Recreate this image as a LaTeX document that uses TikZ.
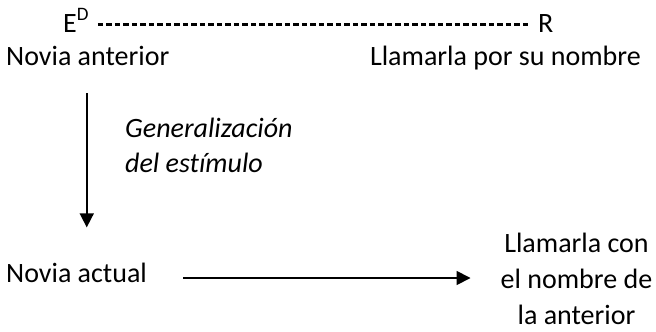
\documentclass[tikz,border=0pt]{standalone}
\usepackage{fontspec}
\setmainfont{Carlito}[Ligatures=NoCommon]
\usetikzlibrary{arrows.meta, positioning, calc}

\begin{document}
\begin{tikzpicture}[
        x=1pt, y=-1pt,
        every node/.style={inner sep=0pt, font=\fontsize{28}{36}\selectfont},
        flecha/.style={-{Triangle[length=14pt,width=14pt]}, line width=1.7pt},
        guiones/.style={line width=2.2pt, dash pattern=on 5.5pt off 3pt}
    ]
        \useasboundingbox (0,0) rectangle (656,332);

        % Fila de arriba
        \node [anchor=base west] (ED) at (63,32) {E\raisebox{12pt}{\fontsize{19}{19}\selectfont D}};
        \node [anchor=base west] (R) at (538,32) {R};
        \node [anchor=base west] (prev) at (6,65) {Novia anterior};
        \node [anchor=base east] (name) at (641,65) {Llamarla por su nombre};

        % Fila de abajo
        \node [anchor=base west] (act) at (6,282) {Novia actual};
        \node [align=center] (res) at (576.5,279) {Llamarla con\\el nombre de\\la anterior};

        % Etiqueta de la flecha
        \node [anchor=base west, align=left, font=\fontsize{28}{35}\selectfont\itshape] (gen) at (125,172)
            {Generalización\\del estímulo};

        % Conexiones
        \draw[guiones] ([shift={(9,-7.5)}]ED.base east) -- ([shift={(-10,-7.5)}]R.base west);
        \draw[flecha] ([shift={(-1,28)}]prev.south) -- ([shift={(-1,-35)}]prev.south |- act.north);
        \draw[flecha] ([shift={(36,-4)}]act.base east) -- ([shift={(-30,-4)}]act.base east -| res.west);
    \end{tikzpicture}
\end{document}
